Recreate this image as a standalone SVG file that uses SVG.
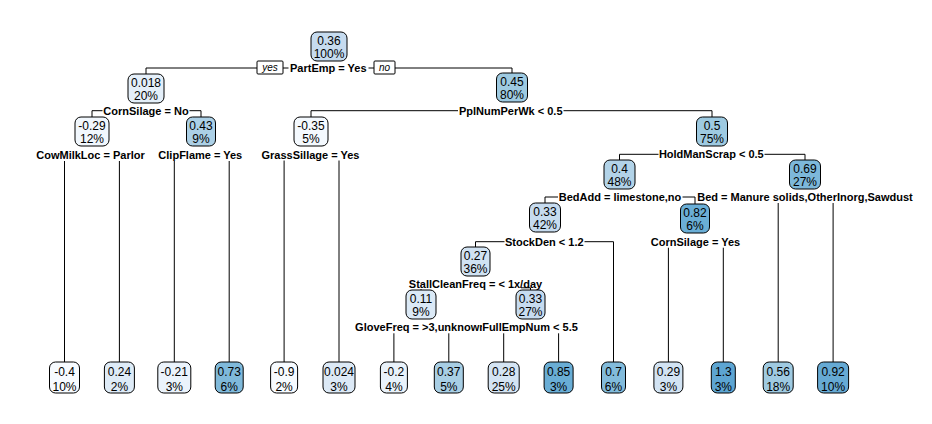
<svg xmlns="http://www.w3.org/2000/svg" width="932" height="424" viewBox="0 0 932 424">
<style>
.bx{stroke:#000;stroke-width:1}
.v{font-family:"Liberation Sans",Arial,sans-serif;font-size:12px;fill:#000;text-anchor:middle}
.s{font-family:"Liberation Sans",Arial,sans-serif;font-size:11px;font-weight:bold;fill:#000;text-anchor:middle}
.bg{fill:#fff}
.yn{font-family:"Liberation Sans",Arial,sans-serif;font-size:10px;font-style:italic;fill:#000;text-anchor:middle}
.ynb{fill:#fff;stroke:#000;stroke-width:1}
.e{fill:none;stroke:#000;stroke-width:1}
</style>
<rect width="932" height="424" fill="#fff"/>
<g id="connectors">
<path class="e" d="M146,74 V68 H512 V73"/>
<path class="e" d="M92,117 V110.7 H201 V117"/>
<path class="e" d="M311,117 V110.7 H712 V117"/>
<path class="e" d="M64.5,362 V155 H119.4 V362"/>
<path class="e" d="M174.3,362 V155 H229.2 V362"/>
<path class="e" d="M284.1,362 V154.5 H339 V362"/>
<path class="e" d="M619.5,160 V154.3 H805 V160"/>
<path class="e" d="M545,203 V197 H695 V204"/>
<path class="e" d="M778.2,362 V197 H833.1 V362"/>
<path class="e" d="M475.5,247 V241.7 H613.5 V362"/>
<path class="e" d="M668.4,362 V241.7 H723.3 V362"/>
<path class="e" d="M421,290 V287.8 H530.5 V290"/>
<path class="e" d="M393.9,362 V327.3 H448.8 V362"/>
<path class="e" d="M503.7,362 V327.3 H558.6 V362"/>
</g>
<g id="n1">
<rect class="bx" x="311" y="32" width="36" height="29" rx="6" fill="#c6dbef"/>
<text class="v" x="329" y="44.5">0.36</text><text class="v" x="329" y="58">100%</text>
<rect class="bg" x="288.5" y="62" width="80" height="12"/>
<text class="s" x="328.3" y="72">PartEmp = Yes</text>
<rect class="ynb" x="257" y="61" width="26" height="13" rx="1"/><text class="yn" x="270" y="71.3">yes</text>
<rect class="ynb" x="374" y="61" width="21" height="13" rx="1"/><text class="yn" x="384.5" y="71.3">no</text>
</g>
<g id="n2">
<rect class="bx" x="128" y="74" width="36" height="29" rx="6" fill="#e4eff9"/>
<text class="v" x="146" y="86.5">0.018</text><text class="v" x="146" y="100">20%</text>
<rect class="bg" x="102.5" y="104.7" width="87" height="12"/>
<text class="s" x="146" y="114.7">CornSilage = No</text>
</g>
<g id="n3">
<rect class="bx" x="496.5" y="73" width="31" height="29" rx="6" fill="#9ecae1"/>
<text class="v" x="512" y="85.5">0.45</text><text class="v" x="512" y="99">80%</text>
<rect class="bg" x="458" y="104.7" width="105.5" height="12"/>
<text class="s" x="510.7" y="114.7">PplNumPerWk &lt; 0.5</text>
</g>
<g id="n4">
<rect class="bx" x="75" y="117" width="34" height="29" rx="6" fill="#f1f7fd"/>
<text class="v" x="92" y="129.5">-0.29</text><text class="v" x="92" y="143">12%</text>
<rect class="bg" x="35" y="149" width="111" height="12"/>
<text class="s" x="90.5" y="159">CowMilkLoc = Parlor</text>
</g>
<g id="n5">
<rect class="bx" x="186.5" y="117" width="29" height="29" rx="6" fill="#acd0e6"/>
<text class="v" x="201" y="129.5">0.43</text><text class="v" x="201" y="143">9%</text>
<rect class="bg" x="157" y="149" width="87" height="12"/>
<text class="s" x="200.3" y="159">ClipFlame = Yes</text>
</g>
<g id="n6">
<rect class="bx" x="294" y="117" width="34" height="29" rx="6" fill="#f4f9fe"/>
<text class="v" x="311" y="129.5">-0.35</text><text class="v" x="311" y="143">5%</text>
<rect class="bg" x="260" y="148.5" width="101" height="12"/>
<text class="s" x="310.5" y="158.5">GrassSillage = Yes</text>
</g>
<g id="n7">
<rect class="bx" x="696.5" y="117" width="31" height="29" rx="6" fill="#9ecae1"/>
<text class="v" x="712" y="129.5">0.5</text><text class="v" x="712" y="143">75%</text>
<rect class="bg" x="658.5" y="148.3" width="106" height="12"/>
<text class="s" x="711.3" y="158.3">HoldManScrap &lt; 0.5</text>
</g>
<g id="n8">
<rect class="bx" x="604" y="160" width="31" height="29" rx="6" fill="#b2d3e8"/>
<text class="v" x="619.5" y="172.5">0.4</text><text class="v" x="619.5" y="186">48%</text>
<rect class="bg" x="558" y="191" width="124.5" height="12"/>
<text class="s" x="620" y="201">BedAdd = limestone,no</text>
</g>
<g id="n9">
<rect class="bx" x="789.5" y="160" width="31" height="29" rx="6" fill="#7db8da"/>
<text class="v" x="805" y="172.5">0.69</text><text class="v" x="805" y="186">27%</text>
<rect class="bg" x="696" y="191" width="218" height="12"/>
<text class="s" x="805" y="201">Bed = Manure solids,OtherInorg,Sawdust</text>
</g>
<g id="n10">
<rect class="bx" x="529.5" y="203" width="31" height="29" rx="6" fill="#c6dbef"/>
<text class="v" x="545" y="215.5">0.33</text><text class="v" x="545" y="229">42%</text>
<rect class="bg" x="504.5" y="235.7" width="80" height="12"/>
<text class="s" x="544.3" y="245.7">StockDen &lt; 1.2</text>
</g>
<g id="n11">
<rect class="bx" x="680.5" y="204" width="29" height="29" rx="6" fill="#6aaed6"/>
<text class="v" x="695" y="216.5">0.82</text><text class="v" x="695" y="230">6%</text>
<rect class="bg" x="649.5" y="235.7" width="92" height="12"/>
<text class="s" x="695.5" y="245.7">CornSilage = Yes</text>
</g>
<g id="n12">
<rect class="bx" x="461" y="247" width="29" height="29" rx="6" fill="#d0e2f2"/>
<text class="v" x="475.5" y="259.5">0.27</text><text class="v" x="475.5" y="273">36%</text>
<rect class="bg" x="408" y="277.5" width="113" height="11.6"/>
<text class="s" x="475.5" y="288">StallCleanFreq = &lt; 1x/day</text>
</g>
<g id="n13">
<rect class="bx" x="406" y="290" width="30" height="29" rx="6" fill="#dbe9f6"/>
<text class="v" x="421" y="302.5">0.11</text><text class="v" x="421" y="316">9%</text>
<rect class="bg" x="354" y="321.3" width="133" height="12"/>
<text class="s" x="420.5" y="331.3">GloveFreq = &gt;3,unknown</text>
</g>
<g id="n14">
<rect class="bx" x="516" y="290" width="29" height="29" rx="6" fill="#c6dbef"/>
<text class="v" x="530.5" y="302.5">0.33</text><text class="v" x="530.5" y="316">27%</text>
<rect class="bg" x="482" y="321.3" width="97" height="12"/>
<text class="s" x="530" y="331.3">FullEmpNum &lt; 5.5</text>
</g>
<g id="l1"><rect class="bx" x="49.5" y="362" width="30" height="31" rx="6" fill="#f7fbff"/><text class="v" x="64.5" y="376">-0.4</text><text class="v" x="64.5" y="391">10%</text></g>
<g id="l2"><rect class="bx" x="104.4" y="362" width="30" height="31" rx="6" fill="#deebf7"/><text class="v" x="119.4" y="376">0.24</text><text class="v" x="119.4" y="391">2%</text></g>
<g id="l3"><rect class="bx" x="157.8" y="362" width="33" height="31" rx="6" fill="#ebf3fb"/><text class="v" x="174.3" y="376">-0.21</text><text class="v" x="174.3" y="391">3%</text></g>
<g id="l4"><rect class="bx" x="215.2" y="362" width="28" height="31" rx="6" fill="#7fb9da"/><text class="v" x="229.2" y="376">0.73</text><text class="v" x="229.2" y="391">6%</text></g>
<g id="l5"><rect class="bx" x="270.6" y="362" width="27" height="31" rx="6" fill="#f7fbff"/><text class="v" x="284.1" y="376">-0.9</text><text class="v" x="284.1" y="391">2%</text></g>
<g id="l6"><rect class="bx" x="323" y="362" width="32" height="31" rx="6" fill="#dce9f6"/><text class="v" x="339" y="376">0.024</text><text class="v" x="339" y="391">3%</text></g>
<g id="l7"><rect class="bx" x="380.4" y="362" width="27" height="31" rx="6" fill="#e9f2fa"/><text class="v" x="393.9" y="376">-0.2</text><text class="v" x="393.9" y="391">4%</text></g>
<g id="l8"><rect class="bx" x="434.3" y="362" width="29" height="31" rx="6" fill="#a8cee4"/><text class="v" x="448.8" y="376">0.37</text><text class="v" x="448.8" y="391">5%</text></g>
<g id="l9"><rect class="bx" x="488.2" y="362" width="31" height="31" rx="6" fill="#d4e4f3"/><text class="v" x="503.7" y="376">0.28</text><text class="v" x="503.7" y="391">25%</text></g>
<g id="l10"><rect class="bx" x="544.1" y="362" width="29" height="31" rx="6" fill="#69add5"/><text class="v" x="558.6" y="376">0.85</text><text class="v" x="558.6" y="391">3%</text></g>
<g id="l11"><rect class="bx" x="601.5" y="362" width="24" height="31" rx="6" fill="#82bbdb"/><text class="v" x="613.5" y="376">0.7</text><text class="v" x="613.5" y="391">6%</text></g>
<g id="l12"><rect class="bx" x="653.9" y="362" width="29" height="31" rx="6" fill="#d2e3f3"/><text class="v" x="668.4" y="376">0.29</text><text class="v" x="668.4" y="391">3%</text></g>
<g id="l13"><rect class="bx" x="711.3" y="362" width="24" height="31" rx="6" fill="#5da5d2"/><text class="v" x="723.3" y="376">1.3</text><text class="v" x="723.3" y="391">3%</text></g>
<g id="l14"><rect class="bx" x="763.2" y="362" width="30" height="31" rx="6" fill="#9fcae1"/><text class="v" x="778.2" y="376">0.56</text><text class="v" x="778.2" y="391">18%</text></g>
<g id="l15"><rect class="bx" x="817.6" y="362" width="31" height="31" rx="6" fill="#66aad4"/><text class="v" x="833.1" y="376">0.92</text><text class="v" x="833.1" y="391">10%</text></g>
</svg>
